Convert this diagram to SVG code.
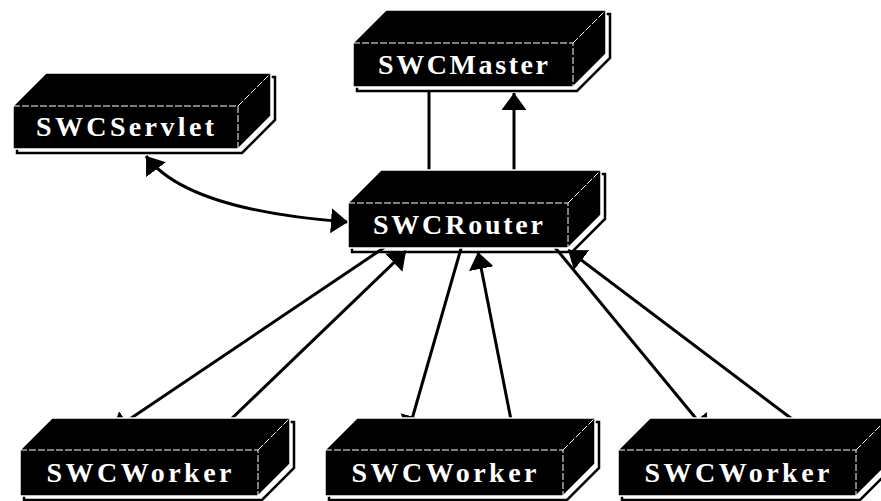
<svg xmlns="http://www.w3.org/2000/svg" width="881" height="501" viewBox="0 0 881 501">
  <style>
    .shadow { fill: none; stroke: #000; stroke-width: 2.5; stroke-linejoin: miter; }
    .body { fill: #000; stroke: #fff; stroke-width: 1.5; stroke-linejoin: miter; }
    .edge { fill: none; stroke: #fff; stroke-width: 1; stroke-dasharray: 7 2; }
    .label { fill: #fff; font-family: "Liberation Serif", "Times New Roman", serif; font-weight: bold; font-size: 28px; text-anchor: middle; }
    .conn { fill: none; stroke: #000; stroke-width: 3; }
  </style>
  <defs>
    <marker id="arrow" markerUnits="userSpaceOnUse" markerWidth="17" markerHeight="25" refX="17" refY="12.5" orient="auto-start-reverse" viewBox="0 0 17 25">
      <path d="M0,0 L17,12.5 L0,25 z" fill="#000"/>
    </marker>
  </defs>
  <rect width="881" height="501" fill="#fff"/>

  <g id="connectors">
    <path class="conn" d="M429,92 L429,188" marker-end="url(#arrow)"/>
    <path class="conn" d="M514,185 L514,93" marker-end="url(#arrow)"/>
    <path class="conn" d="M146,156 C175,195 250,215 348,222" marker-start="url(#arrow)" marker-end="url(#arrow)"/>
    <path class="conn" d="M388,245 L112,431" marker-end="url(#arrow)"/>
    <path class="conn" d="M225,425 L406,251" marker-end="url(#arrow)"/>
    <path class="conn" d="M462,245 L408,433" marker-end="url(#arrow)"/>
    <path class="conn" d="M512,425 L478,252" marker-end="url(#arrow)"/>
    <path class="conn" d="M553,245 L708,433" marker-end="url(#arrow)"/>
    <path class="conn" d="M800,425 L568,250" marker-end="url(#arrow)"/>
  </g>

  <g id="SWCMaster" transform="translate(353,43)">
    <polygon class="shadow" transform="translate(4,4)" points="0,0 33,-33 253,-33 253,11 220,44 0,44"/>
    <polygon class="body" points="0,0 33,-33 253,-33 253,11 220,44 0,44"/>
    <path class="edge" d="M0,0 H220 V44 M220,0 L253,-33"/>
    <text class="label" x="110" y="31" textLength="170" lengthAdjust="spacing">SWCMaster</text>
  </g>

  <g id="SWCServlet" transform="translate(13,106)">
    <polygon class="shadow" transform="translate(4,4)" points="0,0 33,-33 258,-33 258,10 225,43 0,43"/>
    <polygon class="body" points="0,0 33,-33 258,-33 258,10 225,43 0,43"/>
    <path class="edge" d="M0,0 H225 V43 M225,0 L258,-33"/>
    <text class="label" x="112" y="30" textLength="178" lengthAdjust="spacing">SWCServlet</text>
  </g>

  <g id="SWCRouter" transform="translate(348,203)">
    <polygon class="shadow" transform="translate(4,4)" points="0,0 33,-33 253,-33 253,12 220,45 0,45"/>
    <polygon class="body" points="0,0 33,-33 253,-33 253,12 220,45 0,45"/>
    <path class="edge" d="M0,0 H220 V45 M220,0 L253,-33"/>
    <text class="label" x="110" y="31" textLength="170" lengthAdjust="spacing">SWCRouter</text>
  </g>

  <g id="SWCWorker1" transform="translate(20,450)">
    <polygon class="shadow" transform="translate(4,4)" points="0,0 32,-32 270,-32 270,14 238,46 0,46"/>
    <polygon class="body" points="0,0 32,-32 270,-32 270,14 238,46 0,46"/>
    <path class="edge" d="M0,0 H238 V46 M238,0 L270,-32"/>
    <text class="label" x="119" y="32" textLength="185" lengthAdjust="spacing">SWCWorker</text>
  </g>

  <g id="SWCWorker2" transform="translate(325,450)">
    <polygon class="shadow" transform="translate(4,4)" points="0,0 32,-32 270,-32 270,14 238,46 0,46"/>
    <polygon class="body" points="0,0 32,-32 270,-32 270,14 238,46 0,46"/>
    <path class="edge" d="M0,0 H238 V46 M238,0 L270,-32"/>
    <text class="label" x="119" y="32" textLength="185" lengthAdjust="spacing">SWCWorker</text>
  </g>

  <g id="SWCWorker3" transform="translate(618,450)">
    <polygon class="shadow" transform="translate(4,4)" points="0,0 32,-32 270,-32 270,14 238,46 0,46"/>
    <polygon class="body" points="0,0 32,-32 270,-32 270,14 238,46 0,46"/>
    <path class="edge" d="M0,0 H238 V46 M238,0 L270,-32"/>
    <text class="label" x="119" y="32" textLength="185" lengthAdjust="spacing">SWCWorker</text>
  </g>
</svg>
